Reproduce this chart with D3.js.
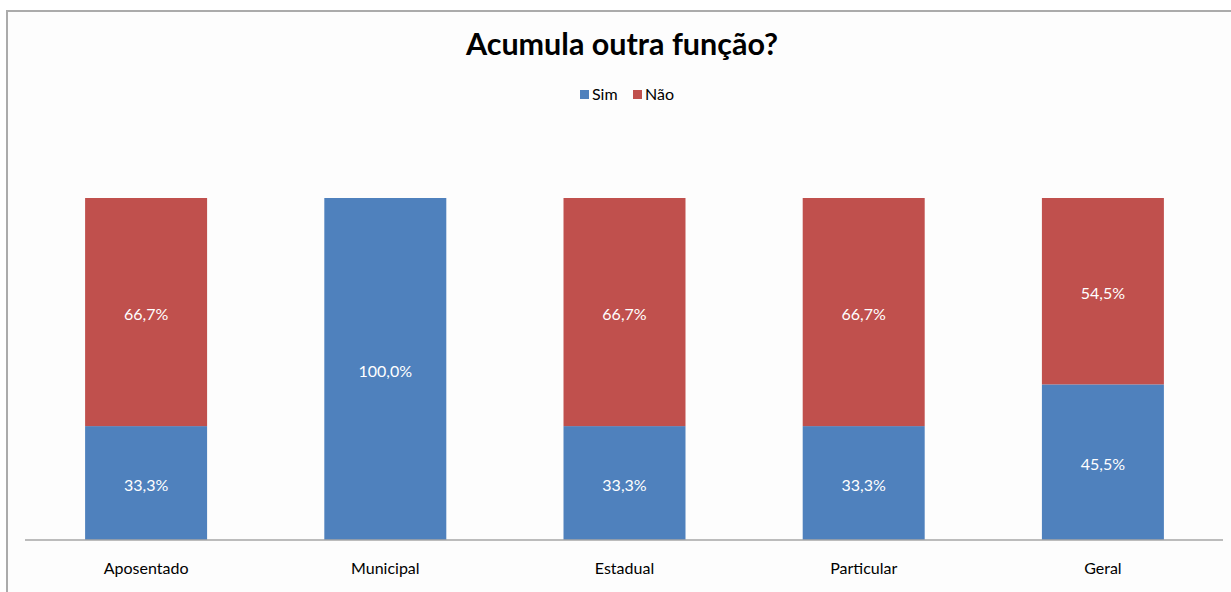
<!DOCTYPE html>
<html>
<head>
<meta charset="utf-8">
<script src="https://cdn.jsdelivr.net/npm/d3@7"></script>
<style>
html,body{margin:0;padding:0;background:#ffffff;}
svg{display:block;}
text{font-family:Lato,"Noto Sans",sans-serif;}
</style>
</head>
<body>
<svg id="chart" width="1231" height="592"></svg>
<script>
const categories = ["Aposentado", "Municipal", "Estadual", "Particular", "Geral"];
const seriesNames = ["Sim", "Não"];
const simValues = [33.3, 100.0, 33.3, 33.3, 45.5];
const naoValues = [66.7, 0, 66.7, 66.7, 54.5];
const colors = ["#4F81BD", "#C0504D"];
const titleText = "Acumula outra função?";

const svg = d3.select("#chart");
const W = 1231, H = 592;

// frame
svg.append("rect").attr("x", 7).attr("y", 11).attr("width", W).attr("height", H)
  .attr("fill", "#fdfdfd").attr("stroke", "#ababab").attr("stroke-width", 2);

const x = d3.scaleBand().domain(categories).range([26.5, 1222.5]).paddingInner(0.49).paddingOuter(0.245);
const y = d3.scaleLinear().domain([0, 100]).range([540, 198]);

const rows = categories.map((c, i) => ({cat: c, Sim: simValues[i], "Não": naoValues[i]}));
const stack = d3.stack().keys(seriesNames)(rows);

const g = svg.append("g");
stack.forEach((layer, li) => {
  g.selectAll(null).data(layer).enter().append("rect")
    .attr("x", d => x(d.data.cat))
    .attr("width", x.bandwidth())
    .attr("y", d => y(d[1]))
    .attr("height", d => y(d[0]) - y(d[1]))
    .attr("fill", colors[li]);
  g.selectAll(null).data(layer.filter(d => d[1] - d[0] > 0)).enter().append("text")
    .attr("x", d => x(d.data.cat) + x.bandwidth() / 2)
    .attr("y", d => (y(d[0]) + y(d[1])) / 2 + 7.5)
    .attr("text-anchor", "middle")
    .attr("fill", "#ffffff")
    .attr("font-size", "16px")
    .text(d => d3.format(".1f")(d[1] - d[0]).replace(".", ",") + "%");
});

// axis
const xAxis = d3.axisBottom(x).tickSize(0).tickPadding(0);
const ax = svg.append("g").attr("transform", "translate(0,540)").call(xAxis);
ax.select(".domain").attr("stroke", "#a6a6a6").attr("stroke-width", 1.5).attr("d", "M25,0H1223");
ax.selectAll(".tick text").attr("y", 34).attr("dy", 0).attr("font-size", "16px")
  .attr("font-family", "Lato, 'Noto Sans', sans-serif").attr("fill", "#000");

// title
svg.append("text").attr("x", 622).attr("y", 55).attr("text-anchor", "middle")
  .attr("font-size", "30.5px").attr("font-weight", "bold").attr("fill", "#000")
  .text(titleText);

// legend
const legend = svg.append("g");
const legendItems = [{name: seriesNames[0], x: 580}, {name: seriesNames[1], x: 633}];
legendItems.forEach((it, i) => {
  legend.append("rect").attr("x", it.x).attr("y", 90).attr("width", 9).attr("height", 9).attr("fill", colors[i]);
  legend.append("text").attr("x", it.x + 12).attr("y", 99.5).attr("font-size", "16px").attr("fill", "#000").text(it.name);
});
</script>
</body>
</html>
